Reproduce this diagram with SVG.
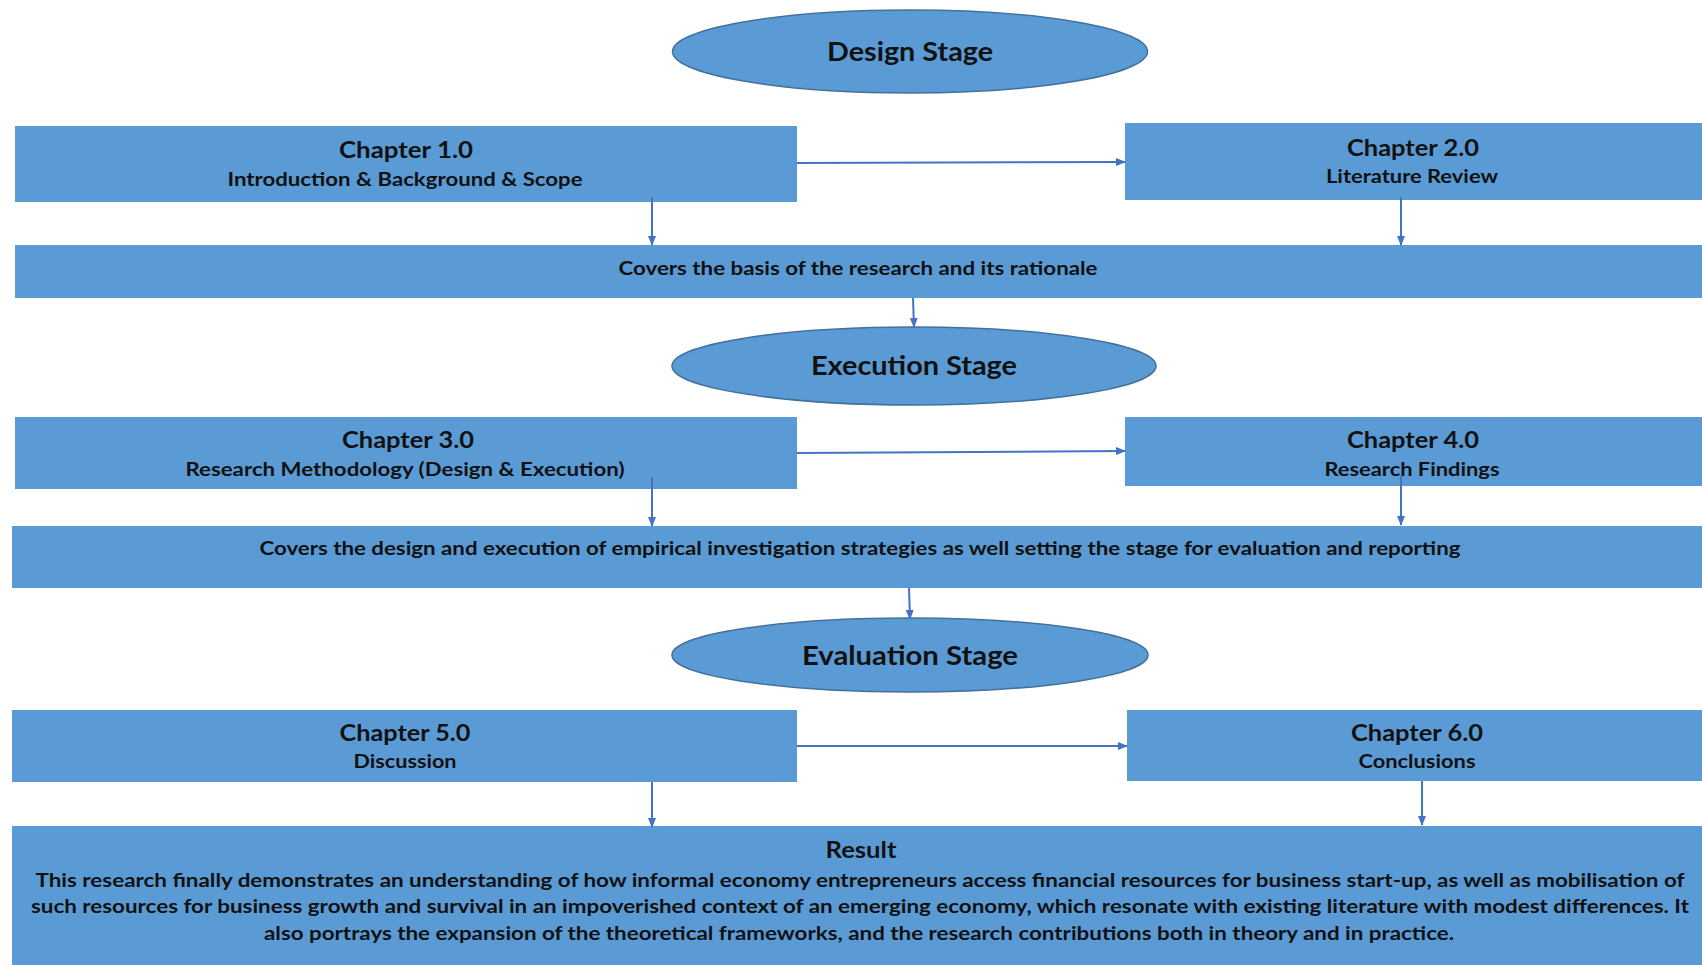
<svg xmlns="http://www.w3.org/2000/svg" width="1702" height="965" viewBox="0 0 1702 965">
<style>
  .box { fill: #5B9BD5; }
  .stage { fill: #5B9BD5; stroke: #41719C; stroke-width: 1.5; }
  text { font-family: Lato, "Open Sans", "Liberation Sans", sans-serif; font-weight: bold; fill: #111111; text-anchor: middle; }
  .st { font-size: 26px; }
  .ch { font-size: 23px; }
  .sub { font-size: 19px; }
  .body { font-size: 19px; }
  .conn line { stroke: #4472C4; stroke-width: 2; fill: none; }
</style>
<defs>
  <marker id="arr" markerWidth="10" markerHeight="8" refX="9" refY="4" orient="auto" markerUnits="userSpaceOnUse">
    <path d="M0,0 L10,4 L0,8 Z" fill="#4472C4"/>
  </marker>
</defs>
<rect width="1702" height="965" fill="#ffffff"/>

<g id="design-stage">
  <ellipse class="stage" cx="910" cy="51.5" rx="237.5" ry="41.5"/>
  <text class="st" x="910" y="61" textLength="166" lengthAdjust="spacingAndGlyphs">Design Stage</text>
</g>

<g id="chapter1">
  <rect class="box" x="15" y="126" width="782" height="76"/>
  <text class="ch" x="406" y="158" textLength="134" lengthAdjust="spacingAndGlyphs">Chapter 1.0</text>
  <text class="sub" x="405" y="186" textLength="355" lengthAdjust="spacingAndGlyphs">Introduction &amp; Background &amp; Scope</text>
</g>

<g id="chapter2">
  <rect class="box" x="1125" y="123" width="577" height="77"/>
  <text class="ch" x="1413" y="156" textLength="132" lengthAdjust="spacingAndGlyphs">Chapter 2.0</text>
  <text class="sub" x="1412" y="183" textLength="172" lengthAdjust="spacingAndGlyphs">Literature Review</text>
</g>

<g id="covers-basis">
  <rect class="box" x="15" y="245" width="1687" height="53"/>
  <text class="body" x="858" y="275" textLength="479" lengthAdjust="spacingAndGlyphs">Covers the basis of the research and its rationale</text>
</g>

<g id="execution-stage">
  <ellipse class="stage" cx="914" cy="366" rx="242" ry="39"/>
  <text class="st" x="914" y="375" textLength="206" lengthAdjust="spacingAndGlyphs">Execution Stage</text>
</g>

<g id="chapter3">
  <rect class="box" x="15" y="417" width="782" height="72"/>
  <text class="ch" x="408" y="448" textLength="132" lengthAdjust="spacingAndGlyphs">Chapter 3.0</text>
  <text class="sub" x="405" y="476" textLength="439" lengthAdjust="spacingAndGlyphs">Research Methodology (Design &amp; Execution)</text>
</g>

<g id="chapter4">
  <rect class="box" x="1125" y="417" width="577" height="69"/>
  <text class="ch" x="1413" y="448" textLength="132" lengthAdjust="spacingAndGlyphs">Chapter 4.0</text>
  <text class="sub" x="1412" y="476" textLength="175" lengthAdjust="spacingAndGlyphs">Research Findings</text>
</g>

<g id="covers-design">
  <rect class="box" x="12" y="526" width="1690" height="62"/>
  <text class="body" x="860" y="555" textLength="1201" lengthAdjust="spacingAndGlyphs">Covers the design and execution of empirical investigation strategies as well setting the stage for evaluation and reporting</text>
</g>

<g id="evaluation-stage">
  <ellipse class="stage" cx="910" cy="655" rx="238" ry="37"/>
  <text class="st" x="910" y="665" textLength="216" lengthAdjust="spacingAndGlyphs">Evaluation Stage</text>
</g>

<g id="chapter5">
  <rect class="box" x="12" y="710" width="785" height="72"/>
  <text class="ch" x="405" y="741" textLength="131" lengthAdjust="spacingAndGlyphs">Chapter 5.0</text>
  <text class="sub" x="405" y="768" textLength="103" lengthAdjust="spacingAndGlyphs">Discussion</text>
</g>

<g id="chapter6">
  <rect class="box" x="1127" y="710" width="575" height="71"/>
  <text class="ch" x="1417" y="741" textLength="132" lengthAdjust="spacingAndGlyphs">Chapter 6.0</text>
  <text class="sub" x="1417" y="768" textLength="117" lengthAdjust="spacingAndGlyphs">Conclusions</text>
</g>

<g id="result">
  <rect class="box" x="12" y="826" width="1690" height="139"/>
  <text class="ch" x="861" y="858" textLength="71" lengthAdjust="spacingAndGlyphs">Result</text>
  <text class="body" x="860" y="887" textLength="1649" lengthAdjust="spacingAndGlyphs">This research finally demonstrates an understanding of how informal economy entrepreneurs access financial resources for business start-up, as well as mobilisation of</text>
  <text class="body" x="860" y="913" textLength="1658" lengthAdjust="spacingAndGlyphs">such resources for business growth and survival in an impoverished context of an emerging economy, which resonate with existing literature with modest differences. It</text>
  <text class="body" x="859" y="940" textLength="1190" lengthAdjust="spacingAndGlyphs">also portrays the expansion of the theoretical frameworks, and the research contributions both in theory and in practice.</text>
</g>

<g id="connectors" class="conn">
  <line x1="797" y1="163" x2="1125" y2="162" marker-end="url(#arr)"/>
  <line x1="652" y1="197" x2="652" y2="245" marker-end="url(#arr)"/>
  <line x1="1401" y1="197" x2="1401" y2="245" marker-end="url(#arr)"/>
  <line x1="913" y1="298" x2="914" y2="327" marker-end="url(#arr)"/>
  <line x1="797" y1="453" x2="1125" y2="451" marker-end="url(#arr)"/>
  <line x1="652" y1="477" x2="652" y2="526" marker-end="url(#arr)"/>
  <line x1="1401" y1="475" x2="1401" y2="525" marker-end="url(#arr)"/>
  <line x1="909" y1="588" x2="910" y2="619" marker-end="url(#arr)"/>
  <line x1="797" y1="746" x2="1127" y2="746" marker-end="url(#arr)"/>
  <line x1="652" y1="782" x2="652" y2="827" marker-end="url(#arr)"/>
  <line x1="1422" y1="781" x2="1422" y2="825" marker-end="url(#arr)"/>
</g>
</svg>
